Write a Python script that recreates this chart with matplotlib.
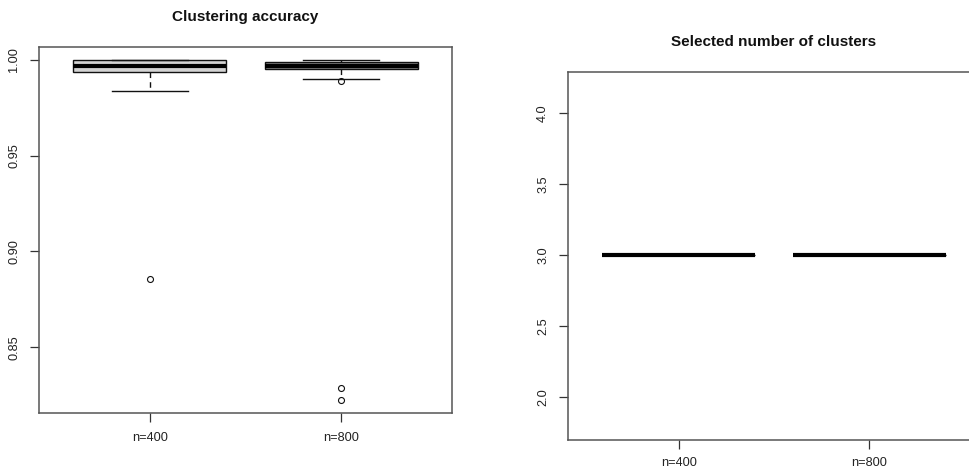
import matplotlib
matplotlib.use("Agg")
import matplotlib.pyplot as plt

plt.rcParams['font.family'] = ['Liberation Sans', 'DejaVu Sans']

groups = ["n=400", "n=800"]

# Clustering accuracy: five-number summaries and outliers per sample size
acc_whislo = [0.984, 0.9903]
acc_q1 = [0.9937, 0.9952]
acc_med = [0.9970, 0.9970]
acc_q3 = [1.0000, 0.9988]
acc_whishi = [1.0000, 1.0000]
acc_fliers = [[0.8855], [0.989, 0.8284, 0.8225]]
acc_fill = ["#d3d3d3", "#858585"]
acc_yticks = [0.85, 0.90, 0.95, 1.00]

# Selected number of clusters: every run picked 3
k_whislo = [3, 3]
k_q1 = [3, 3]
k_med = [3, 3]
k_q3 = [3, 3]
k_whishi = [3, 3]
k_yticks = [2.0, 2.5, 3.0, 3.5, 4.0]

W, H = 970, 468
fig = plt.figure(figsize=(W / 100, H / 100), dpi=100)


def box_axes(x0, y0, x1, y1):
    return fig.add_axes([x0 / W, 1 - y1 / H, (x1 - x0) / W, (y1 - y0) / H])


def make_stats(lo, q1, med, q3, hi, fl=None):
    out = []
    for i in range(len(lo)):
        out.append(dict(whislo=lo[i], q1=q1[i], med=med[i], q3=q3[i],
                        whishi=hi[i], fliers=(fl[i] if fl else [])))
    return out


def style(ax, yticks, fmt, xpad=7):
    for s in ax.spines.values():
        s.set_color("#555555")
        s.set_linewidth(1.1)
    ax.set_xticks([1, 2])
    ax.set_xticklabels(groups)
    ax.set_yticks(yticks)
    ax.set_yticklabels([fmt.format(v) for v in yticks], rotation=90, va="center")
    ax.tick_params(axis="both", direction="out", length=6.5, width=0.9,
                   color="#333333", labelsize=9.2, labelcolor="#222222", pad=7)
    ax.tick_params(axis="x", pad=xpad)
    ax.set_xlim(0.42, 2.58)


def draw(ax, stats, fills):
    bp = ax.bxp(stats, positions=[1, 2], widths=0.8, capwidths=0.4,
                patch_artist=True, showfliers=True,
                boxprops=dict(edgecolor="#111111", linewidth=1.0),
                medianprops=dict(color="#000000", linewidth=3.0, solid_capstyle="butt"),
                whiskerprops=dict(color="#111111", linewidth=1.0, linestyle=(0, (4, 3))),
                capprops=dict(color="#111111", linewidth=1.0),
                flierprops=dict(marker="o", markerfacecolor="none",
                                markeredgecolor="#111111", markersize=4.3,
                                markeredgewidth=0.8))
    for patch, c in zip(bp["boxes"], fills):
        patch.set_facecolor(c)
    return bp


# Left panel: clustering accuracy
ax1 = box_axes(39, 47, 452, 413)
draw(ax1, make_stats(acc_whislo, acc_q1, acc_med, acc_q3, acc_whishi, acc_fliers), acc_fill)
style(ax1, acc_yticks, "{:.2f}")
ax1.set_ylim(0.8156, 1.0068)

# Right panel: selected number of clusters
ax2 = box_axes(568, 72, 980, 440)
draw(ax2, make_stats(k_whislo, k_q1, k_med, k_q3, k_whishi), ["#d3d3d3", "#858585"])
style(ax2, k_yticks, "{:.1f}", xpad=5.5)
ax2.set_ylim(1.70, 4.29)

fig.text(245.5 / W, 1 - 17 / H, "Clustering accuracy", ha="center", va="center",
         fontsize=11, fontweight="bold", color="#111111")
fig.text(774 / W, 1 - 42 / H, "Selected number of clusters", ha="center", va="center",
         fontsize=11, fontweight="bold", color="#111111")

fig.savefig("out.png", dpi=100)
